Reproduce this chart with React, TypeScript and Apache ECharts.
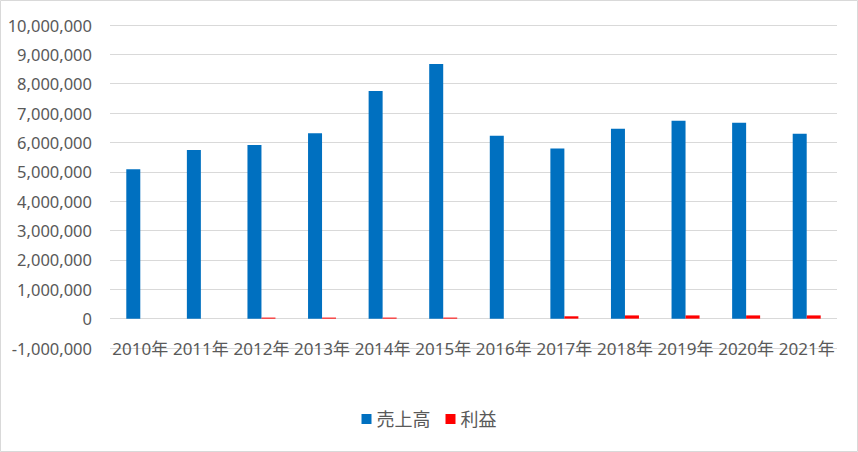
import React, { useEffect, useRef } from "react";
import * as echarts from "echarts";

const categories = ["2010年", "2011年", "2012年", "2013年", "2014年", "2015年", "2016年", "2017年", "2018年", "2019年", "2020年", "2021年"];
const salesName = "売上高";
const profitName = "利益";
const sales = [5090000, 5740000, 5910000, 6310000, 7750000, 8670000, 6230000, 5790000, 6470000, 6740000, 6670000, 6300000];
const profit = [0, 0, 35000, 35000, 35000, 35000, 0, 80000, 110000, 110000, 110000, 110000];
const yMin = -1000000;
const yMax = 10000000;
const yStep = 1000000;

const FONT = "'Noto Sans', 'Noto Sans CJK JP', sans-serif";

export default function App() {
  const ref = useRef<HTMLDivElement>(null);
  useEffect(() => {
    if (!ref.current) return;
    const chart = echarts.init(ref.current, undefined, { renderer: "svg" });
    chart.setOption({
      animation: false,
      backgroundColor: "#ffffff",
      textStyle: { fontFamily: FONT },
      graphic: [
        {
          type: "rect",
          shape: { x: 0.5, y: 0.5, width: 857, height: 451 },
          style: { fill: "none", stroke: "#d9d9d9", lineWidth: 1 },
          silent: true,
        },
      ],
      grid: { left: 110, right: 21, top: 25, bottom: 104, containLabel: false },
      legend: {
        bottom: 19,
        left: "center",
        icon: "rect",
        itemWidth: 10,
        itemHeight: 10,
        itemGap: 15,
        textStyle: { fontSize: 18, color: "#595959", fontFamily: FONT },
        data: [salesName, profitName],
      },
      xAxis: {
        type: "category",
        data: categories,
        axisLine: { show: false },
        axisTick: { show: false },
        axisLabel: {
          fontSize: 17,
          color: "#595959",
          fontFamily: FONT,
          margin: 0,
          verticalAlign: "middle",
          interval: 0,
        },
      },
      yAxis: {
        type: "value",
        min: yMin,
        max: yMax,
        interval: yStep,
        axisLine: { show: false },
        axisTick: { show: false },
        splitLine: { lineStyle: { color: "#d9d9d9", width: 1 } },
        axisLabel: {
          fontSize: 16.5,
          color: "#595959",
          fontFamily: FONT,
          margin: 18,
          formatter: (v: number) => v.toLocaleString("en-US"),
        },
      },
      series: [
        {
          name: salesName,
          type: "bar",
          data: sales,
          barWidth: 14,
          barGap: "0%",
          itemStyle: { color: "#0070C0" },
        },
        {
          name: profitName,
          type: "bar",
          data: profit,
          barWidth: 14,
          itemStyle: { color: "#FF0000" },
        },
      ],
    });
    return () => chart.dispose();
  }, []);
  return (
    <div
      ref={ref}
      style={{ position: "fixed", left: 0, top: 0, width: 858, height: 452 }}
    />
  );
}
